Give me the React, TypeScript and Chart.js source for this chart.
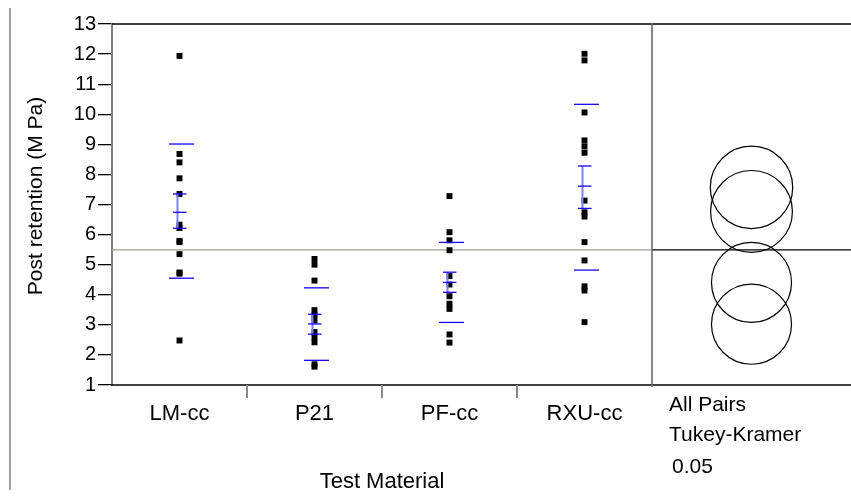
import React, { useEffect, useRef } from 'react';
import { Chart, registerables } from 'chart.js';

Chart.register(...registerables);

// ---- data ----
const categories = ['LM-cc', 'P21', 'PF-cc', 'RXU-cc'];
const lmValues = [11.94, 8.68, 8.4, 7.87, 7.35, 6.33, 6.22, 5.79, 5.75, 5.35, 4.74, 4.7, 2.48];
const p21Values = [5.19, 5.0, 4.47, 3.49, 3.32, 3.14, 2.76, 2.59, 2.42, 1.69, 1.61];
const pfValues = [7.28, 6.08, 5.81, 5.48, 4.62, 4.34, 3.95, 3.7, 3.53, 2.68, 2.41];
const rxuValues = [12.01, 11.79, 10.06, 9.13, 8.93, 8.72, 7.13, 6.74, 6.6, 5.75, 5.14, 4.28, 4.14, 3.09];
const groupValues = [lmValues, p21Values, pfValues, rxuValues];

const groupMeans = [6.74, 3.03, 4.41, 7.61];
const sdUpper = [9.01, 4.23, 5.74, 10.33];
const sdLower = [4.55, 1.82, 3.08, 4.82];
const ciUpper = [7.35, 3.35, 4.75, 8.28];
const ciLower = [6.21, 2.69, 4.08, 6.87];

const circleCenters = [6.77, 3.02, 4.41, 7.57];
const circleRadii = [1.36, 1.33, 1.33, 1.37];
const grandMean = 5.49;

const yMin = 1;
const yMax = 13;
const yStep = 1;

const yTitle = 'Post retention (M Pa)';
const xTitle = 'Test Material';
const comparisonLabels = ['All Pairs', 'Tukey-Kramer', '0.05'];

const FONT = '"Liberation Sans", Arial, Helvetica, sans-serif';

const decorPlugin = {
  id: 'decor',
  beforeDatasetsDraw(chart: any) {
    const { ctx, chartArea: a, scales } = chart;
    const x = scales.x;
    const y = scales.y;
    const W = chart.width;
    const line = (x1: number, y1: number, x2: number, y2: number) => {
      ctx.beginPath();
      ctx.moveTo(x1, y1);
      ctx.lineTo(x2, y2);
      ctx.stroke();
    };
    ctx.save();
    // page margin line
    ctx.strokeStyle = '#a0a0a0';
    ctx.lineWidth = 2;
    line(10, 8, 10, 490);
    // grand mean line
    const gy = y.getPixelForValue(grandMean);
    ctx.lineWidth = 1.3;
    ctx.strokeStyle = '#a09e96';
    line(a.left, gy, a.right, gy);
    ctx.strokeStyle = '#000';
    line(a.right, gy, W, gy);
    // top and bottom frame
    ctx.strokeStyle = '#000';
    ctx.lineWidth = 1.3;
    line(a.left, a.top, W, a.top);
    line(a.left - 1, a.bottom, W, a.bottom);
    // category separator ticks
    ctx.strokeStyle = '#8a8a8a';
    ctx.lineWidth = 2;
    for (let i = 1; i < categories.length; i++) {
      const px = Math.round(x.getPixelForValue(i));
      line(px, a.bottom, px, a.bottom + 13);
    }
    // panel divider
    ctx.strokeStyle = '#6a6a6a';
    ctx.lineWidth = 1.6;
    line(a.right, a.top - 1, a.right, a.bottom + 2);
    ctx.restore();
  },
  afterDatasetsDraw(chart: any) {
    const { ctx, chartArea: a, scales } = chart;
    const x = scales.x;
    const y = scales.y;
    const W = chart.width;
    const line = (x1: number, y1: number, x2: number, y2: number) => {
      ctx.beginPath();
      ctx.moveTo(x1, y1);
      ctx.lineTo(x2, y2);
      ctx.stroke();
    };
    ctx.save();
    // means / std dev / error bars
    for (let i = 0; i < categories.length; i++) {
      const c = x.getPixelForValue(i + 0.5);
      ctx.strokeStyle = '#8080ff';
      ctx.lineWidth = 2;
      line(c - 2, y.getPixelForValue(ciUpper[i]), c - 2, y.getPixelForValue(ciLower[i]));
      ctx.strokeStyle = '#1a00ff';
      ctx.lineWidth = 1.3;
      for (const v of [sdUpper[i], sdLower[i]]) {
        const py = y.getPixelForValue(v);
        line(c - 10.5, py, c + 14.5, py);
      }
      for (const v of [ciUpper[i], groupMeans[i], ciLower[i]]) {
        const py = y.getPixelForValue(v);
        line(c - 6.5, py, c + 7, py);
      }
    }
    // comparison circles
    const cx = (a.right + W) / 2;
    ctx.strokeStyle = '#000';
    ctx.lineWidth = 1.2;
    for (let i = 0; i < circleCenters.length; i++) {
      const cy = y.getPixelForValue(circleCenters[i]);
      const r = Math.abs(y.getPixelForValue(circleCenters[i] + circleRadii[i]) - cy);
      ctx.beginPath();
      ctx.arc(cx, cy, r, 0, Math.PI * 2);
      ctx.stroke();
    }
    // texts
    ctx.fillStyle = '#000';
    ctx.font = `21px ${FONT}`;
    ctx.textAlign = 'left';
    ctx.textBaseline = 'alphabetic';
    ctx.fillText(comparisonLabels[0], a.right + 17, 411);
    ctx.fillText(comparisonLabels[1], a.right + 17, 441);
    ctx.fillText(comparisonLabels[2], a.right + 20, 473);
    // y title
    ctx.translate(36, 196);
    ctx.rotate(-Math.PI / 2);
    ctx.textAlign = 'center';
    ctx.textBaseline = 'middle';
    ctx.fillText(yTitle, 0, 0);
    ctx.restore();
  },
};

export default function App() {
  const ref = useRef<HTMLCanvasElement>(null);
  useEffect(() => {
    if (!ref.current) return;
    Chart.defaults.font.family = FONT;
    const chart = new Chart(ref.current, {
      type: 'scatter',
      data: {
        datasets: groupValues.map((vals, i) => ({
          label: categories[i],
          data: vals.map((v) => ({ x: i + 0.5, y: v })),
          pointStyle: 'rect',
          pointRadius: 4.2,
          pointBackgroundColor: '#000',
          pointBorderWidth: 0,
          showLine: false,
        })),
      },
      options: {
        animation: false,
        responsive: false,
        devicePixelRatio: 1,
        layout: { padding: { left: 20, top: 24, right: 199, bottom: 0 } },
        plugins: { legend: { display: false }, tooltip: { enabled: false } },
        scales: {
          x: {
            type: 'linear',
            min: 0,
            max: categories.length,
            afterBuildTicks: (s: any) => {
              s.ticks = categories.map((_, i) => ({ value: i + 0.5 }));
            },
            ticks: {
              callback: (_v: any, idx: number) => categories[idx],
              color: '#000',
              font: { size: 22 },
              padding: 16,
              autoSkip: false,
              maxRotation: 0,
            },
            grid: { display: false, drawTicks: false },
            border: { display: false },
            title: {
              display: true,
              text: xTitle,
              color: '#000',
              font: { size: 22 },
              padding: { top: 0, bottom: 2 },
            },
            afterFit: (s: any) => {
              s.height = 112;
            },
          },
          y: {
            type: 'linear',
            min: yMin,
            max: yMax,
            ticks: { stepSize: yStep, color: '#000', font: { size: 20 }, padding: 2 },
            grid: { drawOnChartArea: false, drawTicks: true, tickLength: 14, color: '#000', lineWidth: 1.3 },
            border: { display: true, color: '#808080', width: 2 },
            afterFit: (s: any) => {
              s.width = 92;
            },
          },
        },
      },
      plugins: [decorPlugin],
    } as any);
    return () => chart.destroy();
  }, []);
  return (
    <div style={{ position: 'absolute', left: 0, top: 0, width: 851, height: 497, background: '#fff' }}>
      <canvas ref={ref} width={851} height={497} style={{ display: 'block', width: 851, height: 497 }} />
    </div>
  );
}
